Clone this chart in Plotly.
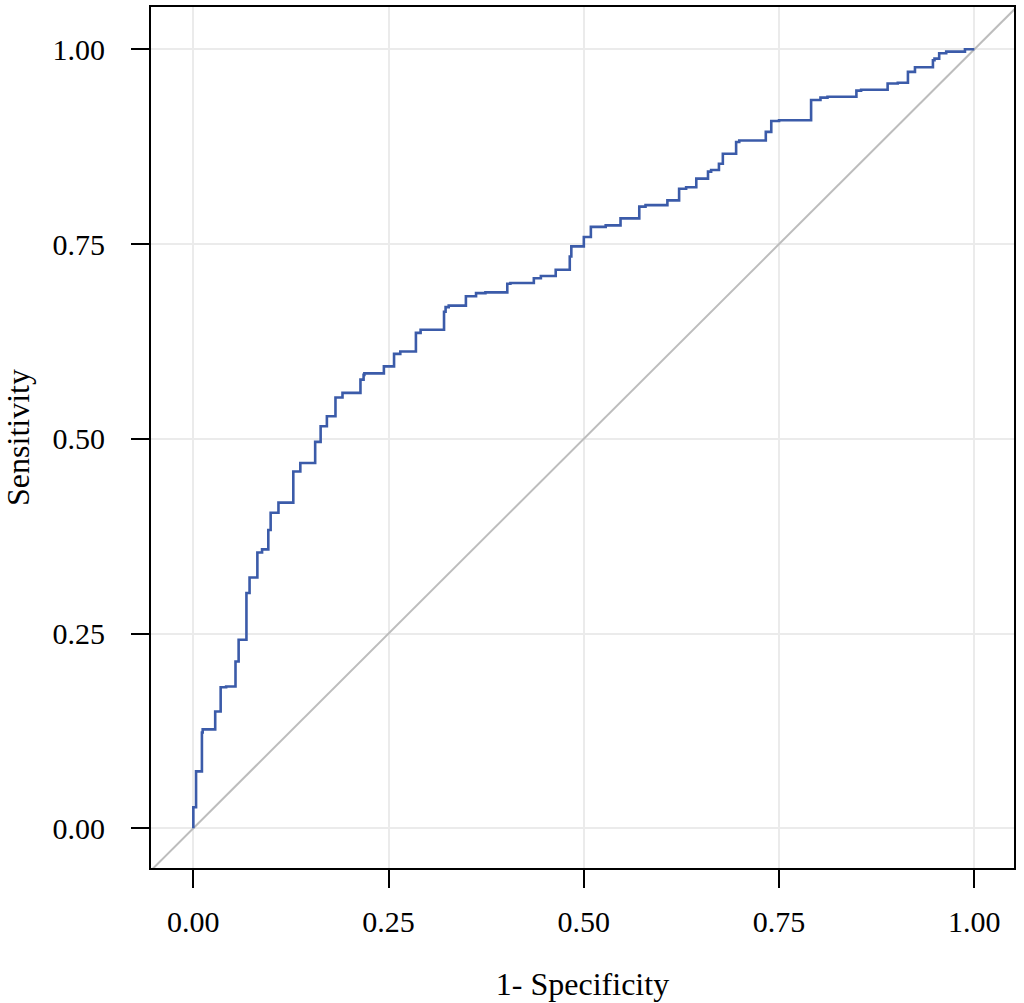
import plotly.graph_objects as go

fpr = [0.0, 0.0, 0.0035, 0.0035, 0.011, 0.012, 0.028, 0.035, 0.042, 0.054, 0.058, 0.058, 0.068,
       0.072, 0.082, 0.088, 0.096, 0.099, 0.109, 0.128, 0.137, 0.156, 0.163, 0.171, 0.182, 0.191,
       0.214, 0.218, 0.219, 0.244, 0.257, 0.265, 0.285, 0.291, 0.321, 0.323, 0.327, 0.349, 0.362,
       0.374, 0.402, 0.406, 0.436, 0.445, 0.464, 0.468, 0.482, 0.484, 0.500, 0.509, 0.528, 0.547,
       0.554, 0.571, 0.579, 0.607, 0.622, 0.631, 0.644, 0.659, 0.663, 0.673, 0.678, 0.695, 0.699,
       0.733, 0.740, 0.750, 0.791, 0.803, 0.812, 0.849, 0.855, 0.889, 0.902, 0.915, 0.924, 0.930,
       0.947, 0.949, 0.955, 0.964, 0.988, 0.990, 1.0]
tpr = [0.0, 0.024, 0.027, 0.069, 0.073, 0.123, 0.127, 0.150, 0.181, 0.182, 0.214, 0.240, 0.242,
       0.302, 0.322, 0.354, 0.358, 0.383, 0.405, 0.418, 0.458, 0.469, 0.496, 0.516, 0.529, 0.553,
       0.559, 0.576, 0.582, 0.584, 0.593, 0.609, 0.612, 0.636, 0.640, 0.663, 0.669, 0.671, 0.683,
       0.687, 0.688, 0.699, 0.700, 0.706, 0.709, 0.717, 0.717, 0.734, 0.747, 0.759, 0.772, 0.774,
       0.783, 0.783, 0.798, 0.800, 0.806, 0.821, 0.823, 0.834, 0.843, 0.845, 0.853, 0.866, 0.881,
       0.883, 0.894, 0.908, 0.909, 0.935, 0.938, 0.939, 0.947, 0.948, 0.956, 0.957, 0.971, 0.977,
       0.977, 0.986, 0.988, 0.995, 0.997, 1.0, 1.0]

ref_line = [-0.06, 1.06]
tick_vals = [0.0, 0.25, 0.5, 0.75, 1.0]
tick_text = ["0.00", "0.25", "0.50", "0.75", "1.00"]

fig = go.Figure()
fig.add_trace(go.Scatter(x=ref_line, y=ref_line, mode="lines",
                         line=dict(color="#bdbdbd", width=2), hoverinfo="skip", showlegend=False))
fig.add_trace(go.Scatter(x=fpr, y=tpr, mode="lines",
                         line=dict(color="#3b5ba9", width=2.6, shape="vh"), showlegend=False))

font = "Liberation Serif, Times New Roman, serif"
axis_common = dict(
    tickvals=tick_vals, ticktext=tick_text,
    showgrid=True, gridcolor="#ebebeb", gridwidth=2.2,
    zeroline=False, showline=True, linecolor="black", linewidth=2, mirror=True,
    ticks="outside", ticklen=18, tickwidth=1.8, tickcolor="black",
    tickfont=dict(family=font, size=30, color="black"),
)
fig.update_xaxes(range=[-0.0542, 1.0508],
                 title=dict(text="1- Specificity", font=dict(family=font, size=32, color="black"), standoff=36),
                 ticklabelstandoff=8, **axis_common)
fig.update_yaxes(range=[-0.051, 1.0543],
                 title=dict(text="Sensitivity", font=dict(family=font, size=32, color="black"), standoff=18),
                 ticklabelstandoff=20, **axis_common)

fig.update_layout(
    width=1024, height=1003,
    margin=dict(l=151, r=10, t=7, b=135, autoexpand=False),
    plot_bgcolor="white", paper_bgcolor="white",
    font=dict(family=font, color="black"),
)
fig.write_html("out.html", config={"displayModeBar": False},
               post_script="document.body.style.margin='0px';document.body.style.overflow='hidden';")
